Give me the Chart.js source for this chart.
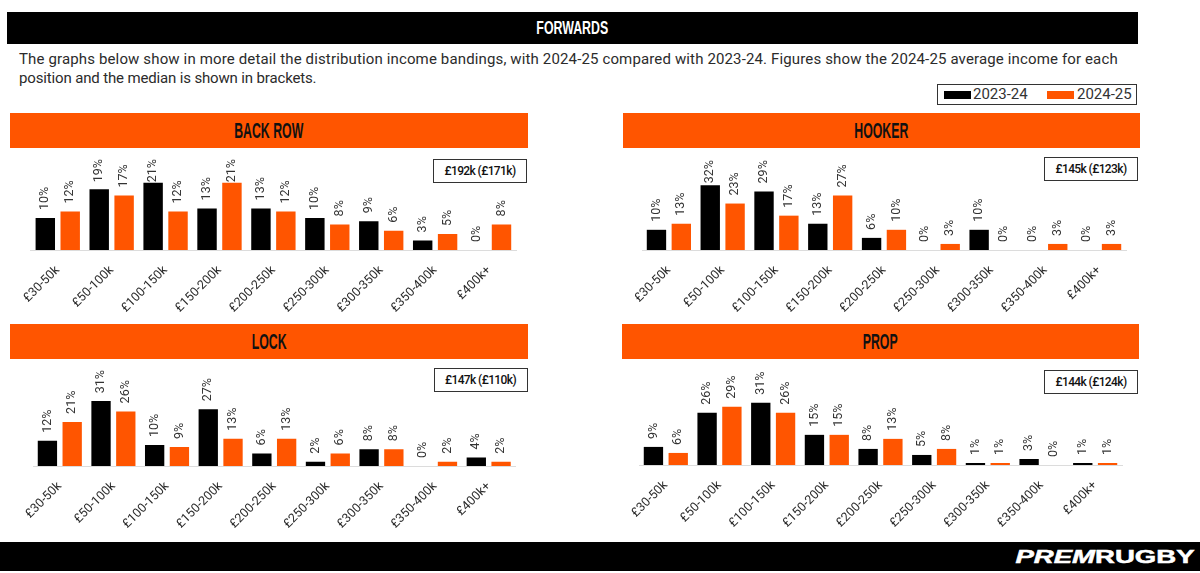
<!DOCTYPE html>
<html>
<head>
<meta charset="utf-8">
<title>Forwards income bandings</title>
<script src="https://cdn.jsdelivr.net/npm/chart.js@4"></script>
<style>
  html, body { margin: 0; padding: 0; background: #fff; }
  body { width: 1200px; height: 573px; position: relative; overflow: hidden; font-family: Roboto, sans-serif; color: #2b2b2b; }
  .abs { position: absolute; }
  .black { background: #000; }
  .orange { background: #ff5500; }
  .head { display: flex; align-items: center; justify-content: center; font-family: "Liberation Sans Narrow", "Liberation Sans", sans-serif; font-weight: bold; }
  .head span { display: inline-block; transform: scaleX(0.56); }
  .intro { left: 19px; font-size: 15px; white-space: nowrap; line-height: 19px; }
  .box { border: 1.5px solid #333; box-sizing: border-box; display: flex; align-items: center; justify-content: center; font-size: 12px; font-weight: 500; letter-spacing: -0.6px; color: #111; background: #fff; }
  .legtext { font-size: 15px; line-height: 21px; color: #333; }
  canvas { position: absolute; }
</style>
</head>
<body>

<div class="abs black head" style="left:7px;top:12px;width:1131px;height:32px;color:#fff;font-size:19px"><span style="transform:scaleX(0.65)">FORWARDS</span></div>
<div class="abs intro" id="intro1" style="top:50px;letter-spacing:0.14px">The graphs below show in more detail the distribution income bandings, with 2024-25 compared with 2023-24. Figures show the 2024-25 average income for each</div>
<div class="abs intro" id="intro2" style="top:69px;letter-spacing:-0.15px">position and the median is shown in brackets.</div>

<!-- legend -->
<div class="abs box" style="left:937px;top:84px;width:200px;height:21px"></div>
<div class="abs black" style="left:944px;top:91px;width:27px;height:8px"></div>
<div class="abs legtext" style="left:973px;top:84px" id="leg1"></div>
<div class="abs orange" style="left:1047px;top:91px;width:27px;height:8px"></div>
<div class="abs legtext" style="left:1077px;top:84px" id="leg2"></div>

<div class="abs black" style="left:0;top:542px;width:1200px;height:29px"></div>
<div class="abs" style="right:5px;top:546px;color:#fff;font:bold 19px 'Liberation Sans',sans-serif;-webkit-text-stroke:0.5px #fff;transform:scaleX(1.45);transform-origin:right center;line-height:21px;white-space:nowrap"><i>PREM</i>RUGBY</div>

<script>
// ===== Forwards income bandings =====

const bands = ["£30-50k", "£50-100k", "£100-150k", "£150-200k", "£200-250k", "£250-300k", "£300-350k", "£350-400k", "£400k+"];
const seasonNames = ["2023-24", "2024-25"];

const backRow2324 = [10, 19, 21, 13, 13, 10, 9, 3, 0];
const backRow2425 = [12, 17, 12, 21, 12, 8, 6, 5, 8];
const hooker2324 = [10, 32, 29, 13, 6, 0, 10, 0, 0];
const hooker2425 = [13, 23, 17, 27, 10, 3, 0, 3, 3];
const lock2324 = [12, 31, 10, 27, 6, 2, 8, 0, 4];
const lock2425 = [21, 26, 9, 13, 13, 6, 8, 2, 2];
const prop2324 = [9, 26, 31, 15, 8, 5, 1, 3, 1];
const prop2425 = [6, 29, 26, 15, 13, 8, 1, 0, 1];

// Page layout of each panel, in pixels
const panels = [
    { id: "backRow", title: "BACK ROW", note: "£192k (£171k)", a: backRow2324, b: backRow2425, x0: 0, bannerX: 10, bannerW: 518, bannerY: 113, left: 30.8, right: 516, base: 250, perPct: 3.2, areaH: 91, boxX: 433, boxY: 159 },
    { id: "hooker", title: "HOOKER", note: "£145k (£123k)", a: hooker2324, b: hooker2425, x0: 600, bannerX: 622.5, bannerW: 517.5, bannerY: 113, left: 642, right: 1126, base: 250, perPct: 2.02, areaH: 90, boxX: 1044, boxY: 157 },
    { id: "lock", title: "LOCK", note: "£147k (£110k)", a: lock2324, b: lock2425, x0: 0, bannerX: 10, bannerW: 518, bannerY: 324, left: 33, right: 515.5, base: 466, perPct: 2.1, areaH: 96, boxX: 433.5, boxY: 368 },
    { id: "prop", title: "PROP", note: "£144k (£124k)", a: prop2324, b: prop2425, x0: 600, bannerX: 622, bannerW: 517, bannerY: 324, left: 639, right: 1122, base: 464.7, perPct: 2.01, areaH: 96, boxX: 1044, boxY: 370 }
];

const axisHeight = 62;
const canvasWidth = 560;

document.getElementById("leg1").textContent = seasonNames[0];
document.getElementById("leg2").textContent = seasonNames[1];

// Draws the rotated % label over each bar, kept inside the top of the plot
const barLabels = {
    id: "barLabels",
    afterDatasetsDraw(chart) {
        const ctx = chart.ctx;
        ctx.save();
        ctx.font = "12.5px Roboto, sans-serif";
        ctx.fillStyle = "#333";
        ctx.textAlign = "left";
        ctx.textBaseline = "middle";
        chart.data.datasets.forEach((ds, i) => {
            chart.getDatasetMeta(i).data.forEach((bar, j) => {
                const text = ds.data[j] + "%";
                const w = ctx.measureText(text).width;
                const y = Math.max(bar.y - 8, chart.chartArea.top + w);
                ctx.save();
                ctx.translate(bar.x, y);
                ctx.rotate(-Math.PI / 2);
                ctx.fillText(text, 0, 0);
                ctx.restore();
            });
        });
        ctx.restore();
    }
};

panels.forEach(p => {
    const banner = document.createElement("div");
    banner.className = "abs orange head";
    banner.style.cssText = `left:${p.bannerX}px;top:${p.bannerY}px;width:${p.bannerW}px;height:35px;color:#111;font-size:22px`;
    banner.innerHTML = `<span>${p.title}</span>`;
    document.body.appendChild(banner);

    const canvas = document.createElement("canvas");
    const top = p.base - p.areaH - 4;
    const height = p.areaH + 4 + axisHeight;
    canvas.id = p.id;
    canvas.width = canvasWidth;
    canvas.height = height;
    canvas.style.cssText = `left:${p.x0}px;top:${top}px;width:${canvasWidth}px;height:${height}px`;
    document.body.appendChild(canvas);

    const box = document.createElement("div");
    box.className = "abs box";
    box.style.cssText = `left:${p.boxX}px;top:${p.boxY}px;width:94px;height:24px`;
    box.textContent = p.note;
    document.body.appendChild(box);

    new Chart(canvas.getContext("2d"), {
        type: "bar",
        data: {
            labels: bands,
            datasets: [
                { label: seasonNames[0], data: p.a, backgroundColor: "#000", categoryPercentage: 0.924, barPercentage: 0.78 },
                { label: seasonNames[1], data: p.b, backgroundColor: "#ff5500", categoryPercentage: 0.924, barPercentage: 0.78 }
            ]
        },
        options: {
            responsive: false,
            animation: false,
            layout: { padding: { left: p.left - p.x0, right: canvasWidth - (p.right - p.x0), top: 4, bottom: 0 } },
            scales: {
                x: {
                    grid: { display: false },
                    border: { color: "#dcdcdc", width: 1 },
                    afterFit(scale) {
                        scale.height = axisHeight;
                        scale.paddingLeft = 0;
                        scale.paddingRight = 0;
                    },
                    ticks: {
                        autoSkip: false,
                        minRotation: 45,
                        maxRotation: 45,
                        padding: 5,
                        color: "#2b2b2b",
                        font: { family: "Roboto, sans-serif", size: 12.5 }
                    }
                },
                y: { display: false, min: 0, max: p.areaH / p.perPct }
            },
            plugins: {
                legend: { display: false },
                tooltip: { enabled: false }
            }
        },
        plugins: [barLabels]
    });
});
</script>
</body>
</html>
